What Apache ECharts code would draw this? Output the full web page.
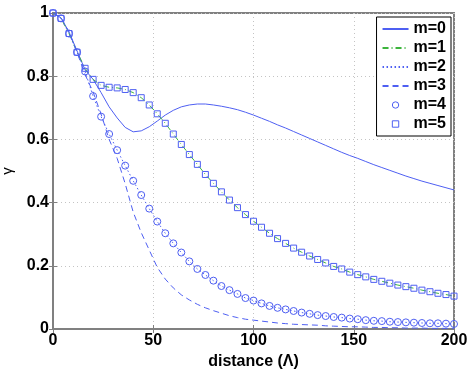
<!DOCTYPE html>
<html lang="en">
<head>
    <meta charset="UTF-8">
    <title>gamma vs distance</title>
    <script type="text/javascript" src="https://cdn.jsdelivr.net/npm/echarts@6/dist/echarts.min.js"></script>
    <style>
        html, body { margin: 0; padding: 0; background: #fff; }
    </style>
</head>
<body>
    <div id="main" style="width: 471px;height:370px;"></div>
    <script type="text/javascript">

        // distance (Lambda), sampled every 4
        var dist = [0, 4, 8, 12, 16, 20, 24, 28, 32, 36, 40, 44, 48, 52, 56, 60, 64, 68, 72, 76,
            80, 84, 88, 92, 96, 100, 104, 108, 112, 116, 120, 124, 128, 132, 136, 140, 144, 148, 152, 156,
            160, 164, 168, 172, 176, 180, 184, 188, 192, 196, 200];

        var m0 = [1, 0.985, 0.94, 0.88, 0.82, 0.79, 0.748, 0.703, 0.668, 0.638, 0.624, 0.627, 0.64, 0.658, 0.677, 0.692, 0.703, 0.709, 0.712, 0.712,
            0.709, 0.705, 0.7, 0.694, 0.686, 0.677, 0.667, 0.657, 0.646, 0.636, 0.625, 0.614, 0.603, 0.592, 0.581, 0.57, 0.559, 0.549, 0.54, 0.53,
            0.52, 0.511, 0.502, 0.493, 0.484, 0.476, 0.468, 0.461, 0.454, 0.447, 0.44];

        // m=1 and m=5 lie on the same curve
        var m5 = [1, 0.983, 0.935, 0.876, 0.825, 0.79, 0.771, 0.765, 0.763, 0.758, 0.748, 0.732, 0.709, 0.681, 0.651, 0.617, 0.584, 0.552, 0.521, 0.489,
            0.461, 0.434, 0.408, 0.384, 0.362, 0.341, 0.322, 0.303, 0.286, 0.271, 0.256, 0.243, 0.231, 0.22, 0.209, 0.198, 0.19, 0.18, 0.172, 0.165,
            0.157, 0.151, 0.145, 0.139, 0.134, 0.129, 0.123, 0.118, 0.113, 0.109, 0.104];
        var m1 = m5;

        // m=2 and m=4 lie on the same curve
        var m4 = [1, 0.983, 0.935, 0.876, 0.815, 0.737, 0.672, 0.617, 0.566, 0.517, 0.469, 0.424, 0.381, 0.34, 0.303, 0.271, 0.242, 0.214, 0.19, 0.171,
            0.153, 0.136, 0.123, 0.111, 0.098, 0.09, 0.081, 0.073, 0.067, 0.062, 0.057, 0.052, 0.048, 0.044, 0.041, 0.038, 0.036, 0.033, 0.031, 0.028,
            0.026, 0.025, 0.023, 0.022, 0.021, 0.02, 0.019, 0.018, 0.018, 0.017, 0.016];
        var m2 = m4;

        var m3 = [1, 0.985, 0.94, 0.875, 0.805, 0.75, 0.68, 0.6, 0.54, 0.46, 0.37, 0.305, 0.25, 0.195, 0.158, 0.13, 0.108, 0.092, 0.078, 0.067,
            0.058, 0.05, 0.042, 0.036, 0.031, 0.028, 0.025, 0.022, 0.019, 0.017, 0.015, 0.014, 0.013, 0.012, 0.01, 0.009, 0.008, 0.007, 0.007, 0.006,
            0.005, 0.005, 0.004, 0.004, 0.003, 0.003, 0.003, 0.002, 0.002, 0.002, 0.002];

        var xTicks = [0, 50, 100, 150, 200];
        var yTicks = [0, 0.2, 0.4, 0.6, 0.8, 1];

        function pairs(ys) {
            return dist.map(function (d, i) { return [d, ys[i]]; });
        }

        var blue = '#4e5ff2';
        var green = '#3cb43c';
        var gray = '#808080';
        var font = 'Liberation Sans, Arial, Helvetica, sans-serif';

        var myChart = echarts.init(document.getElementById('main'));

        var labelStyle = { color: '#000', fontWeight: 'bold', fontSize: 16, fontFamily: font };
        // hollow markers, thin outline
        var hollow = { color: 'rgba(255,255,255,0)', borderColor: blue, borderWidth: 1 };

        var option = {
            animation: false,
            backgroundColor: '#fff',
            grid: {
                left: 53, right: 17, top: 13, bottom: 41,
                outerBoundsMode: 'none',
                show: true, borderColor: gray, borderWidth: 2, backgroundColor: '#fff'
            },
            legend: {
                orient: 'vertical',
                right: 20,
                top: 17,
                padding: [4, 5, 4, 5],
                itemGap: 3,
                itemWidth: 26,
                itemHeight: 8,
                backgroundColor: '#fff',
                borderColor: '#000',
                borderWidth: 1,
                borderRadius: 0,
                textStyle: { color: '#000', fontWeight: 'bold', fontSize: 16, fontFamily: font },
                data: [
                    { name: 'm=0', itemStyle: { opacity: 0 } },
                    { name: 'm=1', itemStyle: { opacity: 0 } },
                    { name: 'm=2', itemStyle: { opacity: 0 } },
                    { name: 'm=3', itemStyle: { opacity: 0 } },
                    { name: 'm=4', lineStyle: { opacity: 0 }, itemStyle: { borderWidth: 1 } },
                    { name: 'm=5', lineStyle: { opacity: 0 }, itemStyle: { borderWidth: 1 } }
                ]
            },
            xAxis: [{
                type: 'value',
                min: xTicks[0], max: xTicks[xTicks.length - 1], interval: 50,
                name: 'distance (Λ)',
                nameLocation: 'middle',
                nameGap: 21,
                nameTextStyle: { color: '#000', fontWeight: 'bold', fontSize: 16, fontFamily: font },
                axisLine: { lineStyle: { color: gray, width: 2 } },
                axisTick: { inside: true, length: 4, lineStyle: { color: gray } },
                axisLabel: Object.assign({ margin: 4 }, labelStyle),
                splitLine: { show: true, lineStyle: { color: '#c4c4c4', type: [1, 3], width: 1 } }
            }, {
                type: 'value', position: 'top',
                min: xTicks[0], max: xTicks[xTicks.length - 1], interval: 50,
                axisLine: { lineStyle: { color: gray, width: 2 } },
                axisTick: { inside: true, length: 4, lineStyle: { color: gray } },
                axisLabel: { show: false },
                splitLine: { show: false }
            }],
            yAxis: [{
                type: 'value',
                min: yTicks[0], max: yTicks[yTicks.length - 1], interval: 0.2,
                name: 'γ',
                nameLocation: 'middle',
                nameGap: 34,
                nameTextStyle: { color: '#000', fontSize: 15, fontFamily: font },
                axisLine: { lineStyle: { color: gray, width: 2 } },
                axisTick: { inside: true, length: 4, lineStyle: { color: gray } },
                axisLabel: Object.assign({ margin: 4 }, labelStyle),
                splitLine: { show: true, lineStyle: { color: '#c4c4c4', type: [1, 3], width: 1 } }
            }, {
                type: 'value', position: 'right',
                min: yTicks[0], max: yTicks[yTicks.length - 1], interval: 0.2,
                axisLine: { lineStyle: { color: gray, width: 2 } },
                axisTick: { inside: true, length: 4, lineStyle: { color: gray } },
                axisLabel: { show: false },
                splitLine: { show: false }
            }],
            series: [{
                name: 'm=0', type: 'line', data: pairs(m0),
                symbol: 'none', color: blue,
                lineStyle: { color: blue, width: 1 }
            }, {
                name: 'm=1', type: 'line', data: pairs(m1),
                symbol: 'none', color: green,
                lineStyle: { color: green, width: 1, type: [6, 3, 1, 3] }
            }, {
                name: 'm=2', type: 'line', data: pairs(m2),
                symbol: 'none', color: blue,
                lineStyle: { color: blue, width: 1, type: [1.5, 2.5] }
            }, {
                name: 'm=3', type: 'line', data: pairs(m3),
                symbol: 'none', color: blue,
                lineStyle: { color: blue, width: 1, type: [6, 4] }
            }, {
                name: 'm=4', type: 'line', data: pairs(m4),
                symbol: 'circle', symbolSize: 7, color: blue,
                itemStyle: hollow,
                lineStyle: { opacity: 0 }
            }, {
                name: 'm=5', type: 'line', data: pairs(m5),
                symbol: 'rect', symbolSize: 6, color: blue,
                itemStyle: hollow,
                lineStyle: { opacity: 0 }
            }]
        };

        myChart.setOption(option);

    </script>
</body>
</html>
